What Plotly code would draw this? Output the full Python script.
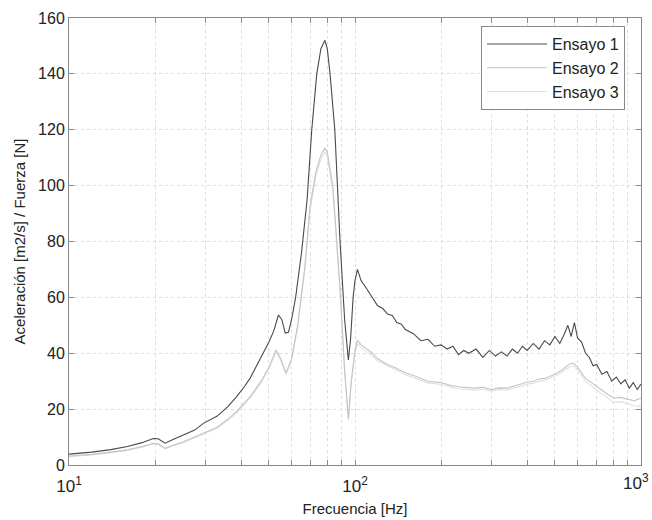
import plotly.graph_objects as go

# ---------------- data ----------------
f1 = [10, 12, 14, 16, 18, 19.7, 20.5, 21, 21.7, 23, 25, 27.5, 29.5, 33, 36, 38.5, 41, 43, 45,
      47.7, 50, 52, 54, 55.5, 57, 58.5, 60, 62, 65, 68, 70.6, 73.5, 76, 78.5, 80, 81.8, 85,
      88.6, 92, 94.8, 96.5, 98.5, 100, 102,
      105, 110, 115, 120, 125, 130, 135, 140, 145, 150, 160, 170, 180, 190, 200, 210, 220,
      230, 240, 250, 265, 280, 295, 310, 325, 340, 355, 370, 385, 400, 420, 440, 460, 480,
      500, 520, 540, 555, 570, 585, 600, 620, 640, 660, 680, 700, 730, 760, 790, 820, 850,
      880, 910, 940, 970, 1000]
y1 = [3.9, 4.6, 5.5, 6.6, 8.0, 9.5, 9.4, 8.8, 7.8, 9.0, 10.5, 12.5, 14.9, 17.5, 21, 24.4, 28,
      31.1, 35, 40, 44, 48, 53.7, 52, 47.2, 47.5, 52, 60, 75.9, 95, 120, 140, 149, 152, 149,
      140, 120, 80.5, 52, 37.6, 45, 60, 66, 70,
      66, 63, 60, 57, 56, 54, 53.5, 51, 50.5, 48.5, 47, 44.5, 45, 42.5, 43, 41.5, 42.5,
      39.5, 41, 40, 41.5, 38.5, 41, 39, 40.5, 39, 41.5, 40, 42.5, 41, 43.5, 41.5, 44.5, 43,
      46, 43.5, 47, 50, 46, 51, 45.5, 44, 40, 38.5, 35.5, 36, 32.5, 33.5, 30, 31.5, 29,
      30.5, 27.5, 29.5, 27, 29]

f2 = [10, 12, 14, 16, 18, 19.7, 20.5, 21.7, 23, 25, 29.5, 33, 36, 38.5, 43, 47, 50, 53, 55,
      57.4, 60, 63, 66.8, 69.6, 73, 76, 78.5, 80, 83.7, 88.6, 92, 94.8, 97, 100, 102,
      105, 110, 115, 120, 130, 140, 150, 160, 170, 180, 200, 215, 230, 260, 280, 300, 320,
      340, 360, 380, 400, 420, 440, 460, 480, 500, 530, 560, 580, 600, 640, 680, 720, 760,
      800, 850, 900, 950, 1000]
y2 = [3.2, 3.8, 4.6, 5.4, 6.6, 7.8, 7.6, 6.0, 7.0, 8.2, 11.4, 13.5, 16.5, 19.1, 24.5, 30, 35,
      41.2, 38, 32.9, 38, 50, 71, 92.5, 105, 111, 113.5, 112, 99.6, 63.8, 34, 16.7, 30, 41, 44.7,
      43, 41.5, 40, 38, 36, 34.5, 33, 32, 31, 30, 29.5, 28.5, 28, 27.5, 27.8, 27, 27.6,
      27.5, 28.3, 29, 29.6, 30, 30.8, 31, 31.8, 32.5, 34, 36, 36.5, 35, 31, 29, 27, 25.5,
      24, 24.2, 23.5, 23, 24]

f3 = [10, 12, 14, 16, 18, 19.7, 20.5, 21.7, 23, 25, 29.5, 33, 36, 38.5, 43, 47, 50, 53, 55,
      57.4, 60, 63, 66.8, 69.6, 73, 76, 78.5, 80, 83.7, 88.6, 92, 94.8, 97, 100, 102,
      105, 110, 115, 120, 130, 140, 150, 160, 170, 180, 200, 215, 230, 260, 280, 300, 320,
      340, 360, 380, 400, 420, 440, 460, 480, 500, 530, 560, 580, 600, 640, 680, 720, 760,
      800, 850, 900, 950, 1000]
y3 = [3.0, 3.6, 4.4, 5.2, 6.4, 7.5, 7.3, 5.8, 6.8, 8.0, 11.0, 13.2, 16.0, 18.6, 24, 29.5, 34.5,
      40.5, 37.5, 32.5, 37.5, 49, 70, 91, 103.5, 109.5, 112, 110.5, 98, 62.5, 33, 16.0, 29, 40, 43.5,
      42, 40.5, 39, 37.2, 35.3, 33.8, 32.3, 31.2, 30.3, 29.4, 28.8, 27.8, 27.3, 26.8, 27.1, 26.4, 27,
      26.8, 27.6, 28.3, 28.9, 29.3, 30, 30.3, 31, 31.8, 33.2, 35, 35.5, 34, 30, 27.8, 25.8, 24.2,
      22.5, 22.6, 21.8, 21.2, 21]

series_names = ["Ensayo 1", "Ensayo 2", "Ensayo 3"]
series_colors = ["#4a4a4a", "#c4c4c4", "#e0e0e0"]

x_tickvals = [10, 20, 30, 40, 50, 60, 70, 80, 90, 100, 200, 300, 400, 500, 600, 700, 800, 900, 1000]
x_ticktext = ["10<sup>1</sup>"] + [""] * 8 + ["10<sup>2</sup>"] + [""] * 9
last_tick_label = "10<sup>3</sup>"

# ---------------- figure ----------------
fig = go.Figure()
for fx, fy, name, col in zip([f1, f2, f3], [y1, y2, y3], series_names, series_colors):
    fig.add_trace(go.Scatter(x=fx, y=fy, mode="lines", name=name,
                             line=dict(color=col, width=1.1)))

# draw Ensayo 1 on top
fig.data = (fig.data[2], fig.data[1], fig.data[0])

grid_col = "#dedede"
font_family = "Liberation Sans, Arial, sans-serif"

fig.update_layout(
    width=652, height=520,
    margin=dict(l=69, r=11, t=18, b=55, autoexpand=False),
    paper_bgcolor="white", plot_bgcolor="white",
    font=dict(family=font_family, size=15, color="#222222"),
    showlegend=True,
    legend=dict(x=0.972, y=0.982, xanchor="right", yanchor="top",
                bgcolor="white", bordercolor="#888888", borderwidth=1,
                font=dict(size=16, color="#222222"), traceorder="reversed",
                itemwidth=60, tracegroupgap=0),
    xaxis=dict(type="log", range=[1, 3.0000001], tickvals=x_tickvals, ticktext=x_ticktext,
               showgrid=True, gridcolor=grid_col, griddash="dot", gridwidth=1,
               showline=True, linecolor="#888888", linewidth=1, mirror="ticks",
               ticks="inside", ticklen=5, tickcolor="#888888",
               ticklabelstandoff=6, ticklabeloverflow="allow", automargin=False,
               title=dict(text="Frecuencia [Hz]", font=dict(size=15), standoff=8),
               tickfont=dict(size=17), zeroline=False),
    yaxis=dict(range=[0, 160], tickvals=[0, 20, 40, 60, 80, 100, 120, 140, 160],
               showgrid=True, gridcolor=grid_col, griddash="dot", gridwidth=1,
               showline=True, linecolor="#888888", linewidth=1, mirror="ticks",
               ticks="inside", ticklen=5, tickcolor="#888888", automargin=False,
               title=dict(text="Aceleración [m2/s] / Fuerza [N]", font=dict(size=15), standoff=8),
               tickfont=dict(size=16), zeroline=False),
)

# right-most decade label kept inside the page
fig.add_annotation(text=last_tick_label, xref="paper", yref="paper", x=1, y=0,
                   xanchor="right", yanchor="top", xshift=10, yshift=-4,
                   showarrow=False, font=dict(size=17, color="#222222"))

fig.write_html("out.html")
